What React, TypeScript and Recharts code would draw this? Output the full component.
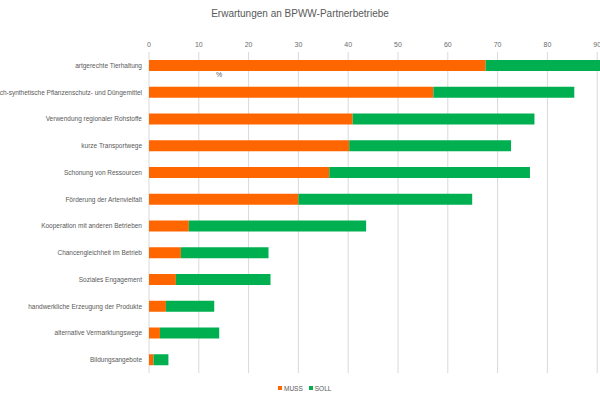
import { BarChart, Bar, XAxis, YAxis, CartesianGrid, Legend } from 'recharts'

const categories = [
  'artgerechte Tierhaltung',
  'Verzicht auf chemisch-synthetische Pflanzenschutz- und Düngemittel',
  'Verwendung regionaler Rohstoffe',
  'kurze Transportwege',
  'Schonung von Ressourcen',
  'Förderung der Artenvielfalt',
  'Kooperation mit anderen Betrieben',
  'Chancengleichheit im Betrieb',
  'Soziales Engagement',
  'handwerkliche Erzeugung der Produkte',
  'alternative Vermarktungswege',
  'Bildungsangebote',
]
const muss = [67.6, 57.1, 40.9, 40.2, 36.2, 30.0, 8.0, 6.4, 5.4, 3.4, 2.2, 0.9]
const soll = [26.4, 28.3, 36.5, 32.5, 40.3, 34.9, 35.6, 17.6, 19.0, 9.7, 11.9, 3.0]
const xTicks = [0, 10, 20, 30, 40, 50, 60, 70, 80, 90, 100]

const data = categories.map((name, i) => ({ name, MUSS: muss[i], SOLL: soll[i] }))

const FONT = '"Liberation Sans", Arial, sans-serif'
const tick = { fill: '#6b6b6b', fontSize: 7, fontFamily: FONT }

function CatTick(props: any) {
  const { x, y, payload } = props
  return (
    <text x={x} y={y} dy={2.4} textAnchor="end" fill="#595959" fontSize={6.5} fontFamily={FONT}>
      {payload.value}
    </text>
  )
}

function LegendBox() {
  const item = (color: string, label: string) => (
    <span style={{ display: 'inline-flex', alignItems: 'center', marginRight: 6 }}>
      <span style={{ width: 4, height: 4, background: color, marginRight: 2, display: 'inline-block' }} />
      {label}
    </span>
  )
  return (
    <div style={{ fontFamily: FONT, fontSize: 6.5, color: '#595959' }}>
      {item('#ff6600', 'MUSS')}
      {item('#00b050', 'SOLL')}
    </div>
  )
}

export default function App() {
  return (
    <div style={{ position: 'absolute', left: 0, top: 0, width: 600, height: 400, overflow: 'hidden', background: '#fff' }}>
      <div style={{ position: 'absolute', top: 8, left: 0, width: 600, textAlign: 'center', fontFamily: FONT, fontSize: 10, color: '#595959' }}>
        Erwartungen an BPWW-Partnerbetriebe
      </div>
      <div style={{ position: 'absolute', top: 71, left: 216, fontFamily: FONT, fontSize: 7, color: '#595959' }}>%</div>
      <BarChart
        width={660}
        height={400}
        data={data}
        layout="vertical"
        margin={{ top: 37, right: 13, bottom: 7, left: 0 }}
        barSize={11}
      >
        <CartesianGrid horizontal={false} stroke="#d9d9d9" />
        <XAxis
          type="number"
          orientation="top"
          domain={[0, 100]}
          ticks={xTicks}
          height={15}
          axisLine={false}
          tickLine={false}
          tickSize={0}
          tickMargin={5}
          tick={tick}
        />
        <YAxis
          type="category"
          dataKey="name"
          width={149}
          axisLine={false}
          tickLine={false}
          tickSize={0}
          tickMargin={7}
          tick={<CatTick />}
          interval={0}
        />
        <Legend verticalAlign="bottom" height={20} content={() => <div style={{ paddingLeft: 278, paddingTop: 11 }}><LegendBox /></div>} />
        <Bar dataKey="MUSS" stackId="a" fill="#ff6600" isAnimationActive={false} />
        <Bar dataKey="SOLL" stackId="a" fill="#00b050" isAnimationActive={false} />
      </BarChart>
    </div>
  )
}
